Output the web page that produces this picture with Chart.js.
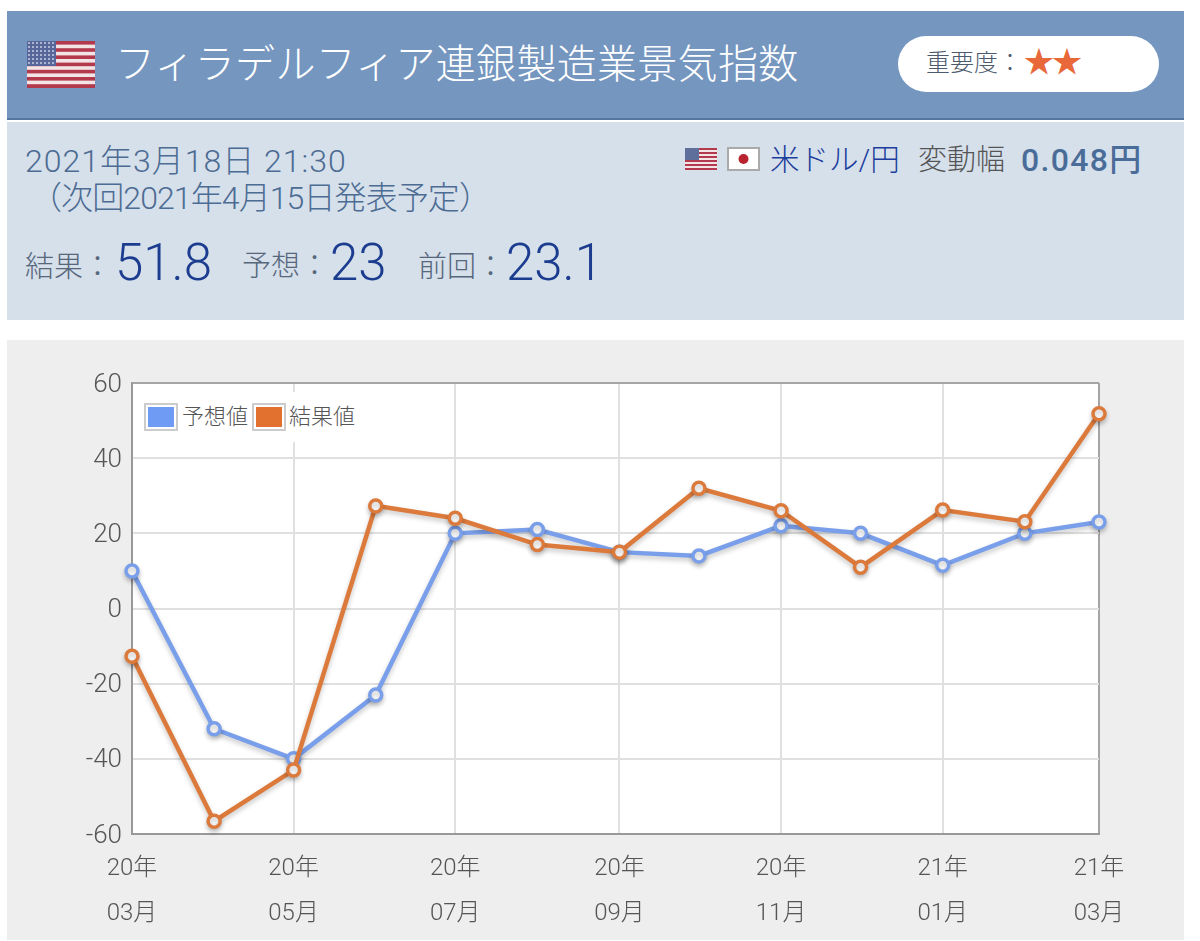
<!DOCTYPE html>
<html lang="ja">
<head>
<meta charset="utf-8">
<title>フィラデルフィア連銀製造業景気指数</title>
<script src="https://cdn.jsdelivr.net/npm/chart.js@4/dist/chart.umd.min.js"></script>
<style>
html, body { margin: 0; padding: 0; background: #fff; }
body { width: 1200px; height: 941px; position: relative; overflow: hidden;
  font-family: Roboto, "Noto Sans CJK JP", sans-serif; }
.abs { position: absolute; white-space: nowrap; line-height: 1; }
#head { left: 7px; top: 11px; width: 1177px; height: 107px; background: #7596bf; border-bottom: 2px solid #56779f; }
#panel { left: 7px; top: 122px; width: 1177px; height: 198px; background: #d6e0eb; }
#title { left: 115px; top: 45px; font-size: 40px; font-weight: 300; color: #fff; letter-spacing: 0.3px; }
#pill { left: 898px; top: 36px; width: 261px; height: 56px; border-radius: 28px; background: #fff; }
#imp { left: 926px; top: 51px; font-size: 24px; font-weight: 300; color: #4c5a6e; }
#stars { left: 1024px; top: 47px; font-size: 30px; color: #e8683a; letter-spacing: -2px; }
.date { font-size: 32px; font-weight: 300; color: #4d6c93; }
.lbl { font-size: 29px; font-weight: 300; color: #56677c; }
.num { font-size: 51px; font-weight: 300; color: #1c3d8f; }
#pair { left: 770px; top: 146px; font-size: 29.5px; font-weight: 300; color: #1c3d9c; }
#range { left: 918px; top: 146px; font-size: 29px; font-weight: 300; color: #555; }
#move { left: 1021px; top: 144px; font-size: 32px; font-weight: 500; color: #4a6c98; letter-spacing: 1.3px; }
#chartBox { left: 7px; top: 340px; width: 1177px; height: 600px; background: #eee; }
#legend { left: 138px; top: 392px; width: 226px; height: 50px; background: #fff; }
.swatch { position: absolute; top: 13px; width: 26px; height: 20px; border: 2px solid #fff; outline: 2px solid #ccc; }
.legText { position: absolute; top: 14px; font-size: 22px; font-weight: 300; color: #555; line-height: 1; }
svg { position: absolute; }
</style>
</head>
<body>
<div class="abs" id="head"></div>
<div class="abs" id="panel"></div>

<svg style="left:27px;top:41px" width="68" height="47" viewBox="0 0 68 47">
  <defs>
    <pattern id="dots" width="4" height="4" patternUnits="userSpaceOnUse">
      <rect width="4" height="4" fill="#56669a"/><circle cx="2" cy="2" r="1" fill="#c9cfe0"/>
    </pattern>
  </defs>
  <rect width="68" height="47" fill="#f3e4e6"/>
  <g fill="#b23a4c">
    <rect y="0" width="68" height="3.6"/><rect y="7.2" width="68" height="3.6"/>
    <rect y="14.4" width="68" height="3.6"/><rect y="21.6" width="68" height="3.6"/>
    <rect y="28.8" width="68" height="3.6"/><rect y="36" width="68" height="3.6"/>
    <rect y="43.2" width="68" height="3.8"/>
  </g>
  <rect width="29" height="25" fill="url(#dots)"/>
</svg>
<div class="abs" id="title">フィラデルフィア連銀製造業景気指数</div>
<div class="abs" id="pill"></div>
<div class="abs" id="imp">重要度：</div>
<div class="abs" id="stars">★★</div>

<div class="abs date" style="left:25px;top:145px;letter-spacing:1px">2021年3月18日 21:30</div>
<div class="abs date" style="left:30px;top:182px;letter-spacing:-0.9px">（次回2021年4月15日発表予定）</div>
<div class="abs lbl" style="left:25px;top:253px">結果：</div>
<div class="abs num" style="left:115px;top:237px">51.8</div>
<div class="abs lbl" style="left:242px;top:252px">予想：</div>
<div class="abs num" style="left:330px;top:237px">23</div>
<div class="abs lbl" style="left:418px;top:253px">前回：</div>
<div class="abs num" style="left:506px;top:237px">23.1</div>

<svg style="left:685px;top:148px" width="32" height="22" viewBox="0 0 32 22">
  <rect width="32" height="22" fill="#f3e4e6"/>
  <g fill="#b23a4c">
    <rect y="0" width="32" height="2"/><rect y="4" width="32" height="2"/>
    <rect y="8" width="32" height="2"/><rect y="12" width="32" height="2"/>
    <rect y="16" width="32" height="2"/><rect y="20" width="32" height="2"/>
  </g>
  <rect width="14" height="12" fill="#5f6f9c"/>
</svg>
<svg style="left:727px;top:147px" width="33" height="24" viewBox="0 0 33 24">
  <rect x="1" y="1" width="31" height="22" fill="#fff" stroke="#aaa" stroke-width="2"/>
  <circle cx="16.5" cy="12" r="5" fill="#b8232f"/>
</svg>
<div class="abs" id="pair">米ドル/円</div>
<div class="abs" id="range">変動幅</div>
<div class="abs" id="move">0.048円</div>

<div class="abs" id="chartBox"><canvas id="indexChart" width="1177" height="600"></canvas></div>
<div class="abs" id="legend"></div>

<script>
// Chart data
const yearLabels = ['20年','20年','20年','20年','20年','20年','20年','20年','20年','20年','21年','21年','21年'];
const monthLabels = ['03月','04月','05月','06月','07月','08月','09月','10月','11月','12月','01月','02月','03月'];
// days since 2020-03-01, the axis is a calendar one so months differ in width
const dayOffsets = [0, 31, 61, 92, 122, 153, 184, 214, 245, 275, 306, 337, 365];
const forecastValues = [10, -32, -40, -23, 20, 21, 15, 14, 22, 20, 11.5, 20, 23];
const actualValues = [-12.7, -56.6, -43, 27.3, 24, 17, 15, 32, 26, 11, 26.2, 23.1, 51.8];
const yTicks = [-60, -40, -20, 0, 20, 40, 60];
const forecastName = '予想値';
const actualName = '結果値';
const forecastColor = '#7a9fea';
const actualColor = '#dc7a3c';

const tickFont = '"Roboto", "Noto Sans CJK JP"';

// white plot background, and a soft shadow under the lines
const plotStyle = {
    id: 'plotStyle',
    beforeDraw(chart) {
        const a = chart.chartArea;
        chart.ctx.save();
        chart.ctx.fillStyle = '#fff';
        chart.ctx.fillRect(a.left, a.top, a.right - a.left, a.bottom - a.top);
        chart.ctx.restore();
    },
    beforeDatasetsDraw(chart) {
        chart.ctx.save();
        chart.ctx.shadowColor = 'rgba(0,0,0,0.22)';
        chart.ctx.shadowBlur = 5;
        chart.ctx.shadowOffsetY = 3;
    },
    afterDatasetsDraw(chart) {
        chart.ctx.restore();
    }
};

function makeDataset(name, values, color, order) {
    return {
        label: name,
        data: values.map((v, i) => ({ x: dayOffsets[i], y: v })),
        order: order,
        borderColor: color,
        backgroundColor: '#fff',
        borderWidth: 4.5,
        pointRadius: 6,
        pointBorderWidth: 3.5,
        pointBackgroundColor: '#fff',
        pointBorderColor: color,
        tension: 0,
        clip: false
    };
}

new Chart(document.getElementById('indexChart').getContext('2d'), {
    type: 'line',
    plugins: [plotStyle],
    data: {
        datasets: [
            makeDataset(forecastName, forecastValues, forecastColor, 2),
            makeDataset(actualName, actualValues, actualColor, 1)
        ]
    },
    options: {
        responsive: false,
        animation: false,
        layout: { padding: { top: 43, right: 85, bottom: 0, left: 0 } },
        plugins: { legend: { display: false }, tooltip: { enabled: false } },
        scales: {
            x: {
                type: 'linear',
                min: dayOffsets[0],
                max: dayOffsets[dayOffsets.length - 1],
                afterFit(scale) { scale.height = 106; },
                afterBuildTicks(scale) {
                    scale.ticks = dayOffsets.filter((d, i) => i % 2 === 0).map(d => ({ value: d }));
                },
                border: { display: true, color: '#999', width: 2 },
                grid: {
                    drawTicks: false,
                    lineWidth: 2,
                    color: ctx => (ctx.tick.value === dayOffsets[dayOffsets.length - 1] ? '#a5a5a5' : '#e0e0e0')
                },
                ticks: {
                    autoSkip: false,
                    maxRotation: 0,
                    padding: 12,
                    color: '#555',
                    font: { family: tickFont, size: 24, weight: 300, lineHeight: 1.875 },
                    callback(value) {
                        const i = dayOffsets.indexOf(value);
                        return [yearLabels[i], monthLabels[i]];
                    }
                }
            },
            y: {
                min: -60,
                max: 60,
                afterFit(scale) { scale.width = 125; },
                afterBuildTicks(scale) {
                    scale.ticks = yTicks.map(v => ({ value: v }));
                },
                border: { display: true, color: '#999', width: 2 },
                grid: {
                    drawTicks: false,
                    lineWidth: 2,
                    color: ctx => (ctx.tick.value === 60 ? '#a5a5a5' : '#e0e0e0')
                },
                ticks: {
                    padding: 10,
                    labelOffset: 2,
                    color: '#555',
                    font: { family: tickFont, size: 26, weight: 300 }
                }
            }
        }
    }
});

// Legend box sits inside the plot and hides the gridline behind it
const legendBox = document.getElementById('legend');
legendBox.innerHTML = `
    <span class="swatch" style="left:8px;background:#6f9bf5"></span>
    <span class="legText" style="left:44px">${forecastName}</span>
    <span class="swatch" style="left:116px;background:#e2702f"></span>
    <span class="legText" style="left:151px">${actualName}</span>
`;
</script>
</body>
</html>
